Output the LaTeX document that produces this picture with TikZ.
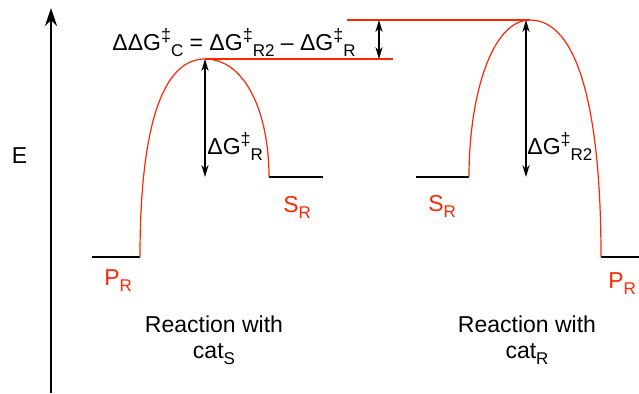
\documentclass[tikz,border=0pt]{standalone}
\usepackage{fontspec}
\setmainfont{Liberation Sans}
\usetikzlibrary{arrows.meta}
\definecolor{curvered}{RGB}{255,38,0}
\newcommand{\hightxt}[1]{\raisebox{0.7ex}{\fontsize{9}{9}\selectfont #1}}
\newcommand{\lowtxt}[1]{\raisebox{-0.55ex}{\fontsize{8.5}{9}\selectfont #1}}
\begin{document}
\begin{tikzpicture}[
  x=0.5pt, y=-0.5pt,
  every node/.style={font=\fontsize{11.5}{13}\selectfont, inner sep=0pt},
  level/.style={line width=1pt, black},
  tsline/.style={line width=1pt, curvered},
  profile/.style={line width=0.6pt, curvered},
  gap/.style={line width=0.8pt, {Stealth[length=6pt,width=3.6pt]}-{Stealth[length=6pt,width=3.6pt]}},
  species/.style={text=curvered, anchor=base west},
  caption/.style={align=center, anchor=base},
]
\useasboundingbox (0,0) rectangle (639,393);

% Energy axis
\coordinate (axisB) at (51,393);
\coordinate (axisT) at (51,8);
\draw[line width=1pt, -{Stealth[length=9pt,width=6pt]}] (axisB) -- (axisT);
\node[anchor=base] (E) at (19.5,163) {E};

% Key energies
\coordinate (PL1) at (92,257);  \coordinate (PL2) at (140,257);
\coordinate (TSL) at (205,59);
\coordinate (SL1) at (269,177); \coordinate (SL2) at (323,177);
\coordinate (SR1) at (416,177); \coordinate (SR2) at (469,177);
\coordinate (TSR) at (530,20);
\coordinate (PR1) at (601,257); \coordinate (PR2) at (639,257);
\coordinate (refL) at (393,59);
\coordinate (refR) at (347,20);

% Reaction with cat_S
\draw[level] (PL1) -- (PL2);
\draw[level] (SL1) -- (SL2);
\draw[profile] (PL2) .. controls (140,125) and (163,59) .. (TSL)
  .. controls (245,59) and (269,112) .. (SL1);

% Reaction with cat_R
\draw[level] (SR1) -- (SR2);
\draw[level] (PR1) -- (PR2);
\draw[profile] (SR2) .. controls (469,95) and (492,20) .. (TSR)
  .. controls (578,20) and (601,110) .. (PR1);

% Transition state levels
\draw[tsline] (TSL) -- (refL);
\draw[tsline] (refR) -- (TSR);

% Barriers
\coordinate (gapT) at (379,20);
\coordinate (gapB) at (379,59);
\draw[gap] (gapT) -- (gapB);
\coordinate (dGLb) at (205,177);
\draw[gap] (TSL) -- (dGLb);
\coordinate (dGRt) at (526,20);
\coordinate (dGRb) at (526,177);
\draw[gap, line width=0.6pt] (dGRt) -- (dGRb);

% Labels
\node[anchor=base west] (ddG) at (112,50)
  {ΔΔG\hightxt{‡}\lowtxt{C} = ΔG\hightxt{‡}\lowtxt{R2} – ΔG\hightxt{‡}\lowtxt{R}};
\node[anchor=base west] (dGL) at (207,154) {ΔG\hightxt{‡}\lowtxt{R}};
\node[anchor=base west] (dGR) at (527,154) {ΔG\hightxt{‡}\lowtxt{R2}};

\node[species] (PLlab) at (104,285) {P\lowtxt{R}};
\node[species] (SLlab) at (283,212) {S\lowtxt{R}};
\node[species] (SRlab) at (428,211) {S\lowtxt{R}};
\node[species] (PRlab) at (608,288) {P\lowtxt{R}};

\node[caption] (capS) at (214,358) {Reaction with\\cat\lowtxt{S}};
\node[caption] (capR) at (527,358) {Reaction with\\cat\lowtxt{R}};

\end{tikzpicture}
\end{document}
